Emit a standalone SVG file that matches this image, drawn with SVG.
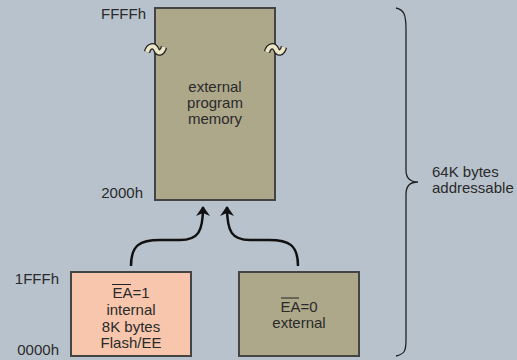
<svg xmlns="http://www.w3.org/2000/svg" width="517" height="360" viewBox="0 0 517 360">
<defs>
<style>
text{font-family:"Liberation Sans",Arial,sans-serif;font-size:15px;fill:#2a2a2a}
.box{stroke:#444;stroke-width:2}
.ext{fill:#ada88a}
.int{fill:#f7c6ad}
.c{text-anchor:middle}
.r{text-anchor:end}
.conn{fill:none;stroke:#111;stroke-width:2.5}
.brk1{fill:none;stroke:#222;stroke-width:6.5}
.brk2{fill:none;stroke:#ece6c6;stroke-width:4}
</style>
<marker id="ah" viewBox="0 0 10 14" refX="9" refY="7" markerWidth="10" markerHeight="14" markerUnits="userSpaceOnUse" orient="auto">
<path d="M0,0 L10,7 L0,14 L3,7 Z" fill="#111"/>
</marker>
</defs>
<rect width="517" height="360" fill="#b8c2cd"/>
<g id="ext-mem">
<rect class="box ext" x="155" y="8" width="120" height="192"/>
<text class="c" x="215" y="92">external</text>
<text class="c" x="215" y="108">program</text>
<text class="c" x="215" y="124">memory</text>
</g>
<g id="breaks">
<path class="brk1" d="M147,52 C149,45 154,45 156,49 C158,54 162,54 164,47"/>
<path class="brk2" d="M147,52 C149,45 154,45 156,49 C158,54 162,54 164,47"/>
<path class="brk1" d="M267,52 C269,45 274,45 276,49 C278,54 282,54 284,47"/>
<path class="brk2" d="M267,52 C269,45 274,45 276,49 C278,54 282,54 284,47"/>
</g>
<g id="int-flash">
<rect class="box int" x="71" y="272" width="120" height="84"/>
<text class="c" x="131" y="298">EA=1</text>
<line x1="112" y1="284.5" x2="131" y2="284.5" stroke="#222" stroke-width="1"/>
<text class="c" x="131" y="315">internal</text>
<text class="c" x="131" y="332">8K bytes</text>
<text class="c" x="131" y="348">Flash/EE</text>
</g>
<g id="ext-low">
<rect class="box ext" x="239" y="272" width="120" height="84"/>
<text class="c" x="299" y="312">EA=0</text>
<line x1="281" y1="298" x2="299" y2="298" stroke="#222" stroke-width="1"/>
<text class="c" x="299" y="328">external</text>
</g>
<g id="labels">
<text class="r" x="146" y="19">FFFFh</text>
<text class="r" x="143" y="198">2000h</text>
<text class="r" x="59" y="284">1FFFh</text>
<text class="r" x="59" y="355">0000h</text>
<text x="432" y="177">64K bytes</text>
<text x="432" y="193">addressable</text>
</g>
<g id="connectors">
<path class="conn" d="M131,266 C131,245 140,240 160,240 L180,240 C198,240 203,232 203,207" marker-end="url(#ah)"/>
<path class="conn" d="M298,266 C298,245 289,240 269,240 L250,240 C232,240 227,232 227,207" marker-end="url(#ah)"/>
<path d="M396,8 C404,10 406,14 406,30 L406,170 C406,178 410,182 418,182 C410,182 406,186 406,194 L406,340 C406,352 404,354 396,356" fill="none" stroke="#222" stroke-width="1.3"/>
</g>
</svg>
